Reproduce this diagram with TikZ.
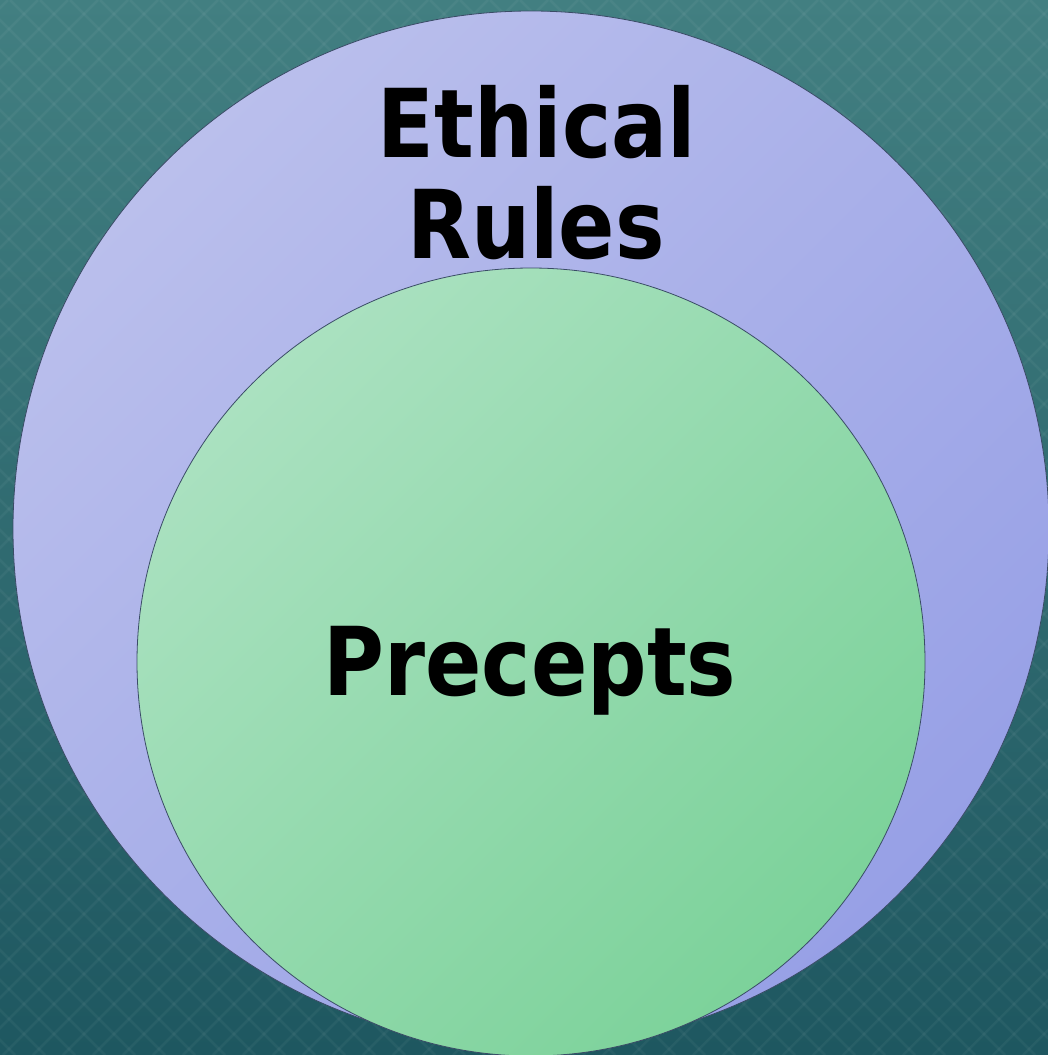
\documentclass[tikz,border=0pt]{standalone}
\usepackage{fontspec}
\newfontfamily\labelfont[FakeStretch=0.875]{DejaVu Sans}
\definecolor{bgtop}{HTML}{427F81}
\definecolor{bgbot}{HTML}{1E5760}
\definecolor{outerlight}{HTML}{BABFEC}
\definecolor{outerdark}{HTML}{97A0E6}
\definecolor{innerlight}{HTML}{AAE1C0}
\definecolor{innerdark}{HTML}{7CD29A}
\definecolor{edge}{HTML}{3A4C66}
\tikzset{
  ring/.style={circle, draw=edge, line width=0.8pt, inner sep=0pt},
  lbl/.style={font=\labelfont\bfseries\fontsize{95}{101}\selectfont, text=black, inner sep=0pt, anchor=base},
  motif/.style={draw=white, opacity=0.045, line width=2.5pt}
}
\begin{document}
\begin{tikzpicture}[x=1pt, y=-1pt]
\useasboundingbox (0,0) rectangle (1048,1055);
\shade[top color=bgtop, bottom color=bgbot] (0,0) rectangle (1048,1055);
\begin{scope}
\clip (0,0) rectangle (1048,1055);
\foreach \k in {-1100,-1070,...,1100} {
  \draw[motif] (\k,0) -- ++(1055,1055);
  \draw[motif] (\k+1048,0) -- ++(-1055,1055);
}
\end{scope}
\node[ring, minimum size=1036pt, top color=outerlight, bottom color=outerdark, shading angle=45] (outer) at (531,529) {};
\node[ring, minimum size=788pt, top color=innerlight, bottom color=innerdark, shading angle=45] (inner) at (531,662) {};
\node[lbl] (ethical) at (537,157) {Ethical};
\node[lbl] (rules) at (536,258) {Rules};
\node[lbl] (precepts) at (530,695) {Precepts};
\end{tikzpicture}
\end{document}
